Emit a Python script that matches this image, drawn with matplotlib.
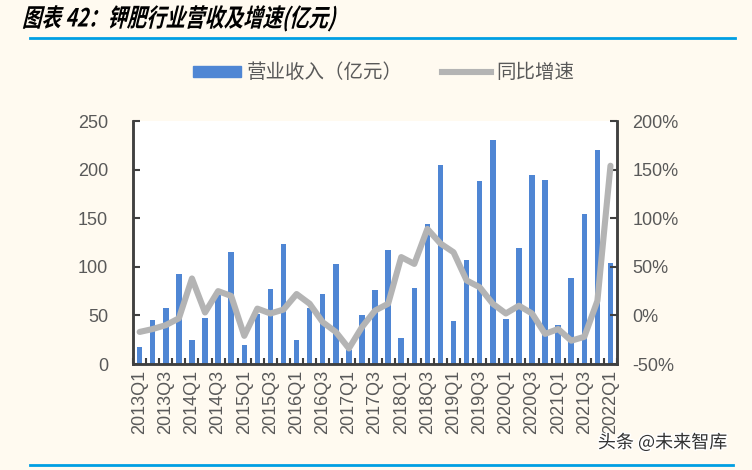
import numpy as np
import matplotlib
matplotlib.use("Agg")
import matplotlib.pyplot as plt
from matplotlib.lines import Line2D
from matplotlib.patches import Patch, PathPatch
from matplotlib.textpath import TextPath
from matplotlib.font_manager import FontProperties
from matplotlib.transforms import Affine2D
import matplotlib.patheffects as pe

plt.rcParams['font.family'] = ['Liberation Sans', 'Noto Sans CJK SC', 'DejaVu Sans']

# --- donnees ---
quarters = [f"{y}Q{q}" for y in range(2013, 2022) for q in range(1, 5)] + ["2022Q1"]
revenue = [18, 45, 58, 93, 25, 47, 71, 115, 20, 51, 77, 123,
           25, 58, 72, 103, 14, 50, 76, 117, 27, 78, 144, 205,
           44, 107, 188, 230, 46, 119, 194, 189, 40, 88, 154, 220, 104]
growth = [-17, -14, -10, -3, 38, 3, 25, 20, -21, 7, 2, 6,
          22, 12, -7, -17, -34, -12, 5, 12, 60, 53, 89, 74,
          65, 36, 29, 12, 2, 10, 2, -19, -14, -26, -22, 15, 154]
left_ticks = [0, 50, 100, 150, 200, 250]
right_ticks = [-50, 0, 50, 100, 150, 200]

BG = "#FFFAF0"
BLUE_BAR = "#4F86D4"
GREY = "#B4B4B4"
TXT = "#595959"
AXC = "#404040"
RULE = "#009FE3"

fig = plt.figure(figsize=(7.52, 4.70), dpi=100, facecolor=BG)
ax = fig.add_axes([0.177, 0.2255, 0.6435, 0.517])
ax.set_facecolor("white")
x = np.arange(len(quarters))
ax.bar(x, revenue, width=0.42, color=BLUE_BAR, zorder=2)
ax.set_xlim(-0.5, len(quarters) - 0.5)
ax.set_ylim(0, 250)
ax.set_yticks(left_ticks)

ax2 = ax.twinx()
ax2.plot(x, growth, color=GREY, lw=4.4, solid_joinstyle="round",
         solid_capstyle="round", zorder=3)
ax2.set_ylim(-50, 200)
ax2.set_yticks(right_ticks)
ax2.set_yticklabels([f"{t}%" for t in right_ticks])

# ticks : graduations entre les barres, etiquettes un trimestre sur deux
ax.set_xticks(x[::2])
ax.set_xticklabels(quarters[::2], rotation=90)
ax.set_xticks(np.arange(len(quarters) + 1) - 0.5, minor=True)
ax.tick_params(axis="x", which="major", length=0, labelsize=13, colors=TXT, pad=4)
ax.tick_params(axis="x", which="minor", direction="in", length=4, width=1.5, color=AXC)
ax.tick_params(axis="y", direction="in", length=5, width=1.5, color=AXC,
               labelsize=13, labelcolor=TXT, pad=18)
ax2.tick_params(axis="y", direction="in", length=5, width=1.5, color=AXC,
                labelsize=13, labelcolor=TXT, pad=11)
for a in (ax, ax2):
    a.spines["top"].set_visible(False)
    for s in ("left", "right", "bottom"):
        a.spines[s].set_color(AXC)
        a.spines[s].set_linewidth(1.8)

# --- titre en gras italique (police CJK sans italique : on incline le trace) ---
titre = TextPath((0, 0), "图表 42：钾肥行业营收及增速(亿元)", size=15,
                 prop=FontProperties(family="Noto Sans CJK SC", weight="bold"))
tr = (Affine2D().scale(0.93, 1.2).skew_deg(14, 0).scale(1 / 72)
      .translate(0.22, 4.70 - 0.265) + fig.dpi_scale_trans)
fig.add_artist(PathPatch(titre, transform=tr, color="black", lw=0))

fig.add_artist(Line2D([0.04, 0.978], [0.92, 0.92], color=RULE, lw=2))
fig.add_artist(Line2D([0.04, 0.975], [0.01, 0.01], color=RULE, lw=2))

handles = [Patch(color=BLUE_BAR), Line2D([], [], color=GREY, lw=4.4)]
fig.legend(handles, ["营业收入（亿元）", "同比增速"], loc="center",
           bbox_to_anchor=(0.51, 0.845), ncol=2, frameon=False,
           labelcolor=TXT, handlelength=2.5, handleheight=0.45, handletextpad=0.3,
           columnspacing=2.0, prop={"family": ["Noto Sans CJK SC"], "size": 14})

fig.text(0.795, 0.047, "头条 @未来智库", fontsize=13, color="#333333",
         family=["Noto Sans CJK SC"],
         path_effects=[pe.withStroke(linewidth=2, foreground="white")])

fig.savefig("out.png", dpi=100, facecolor=BG)
